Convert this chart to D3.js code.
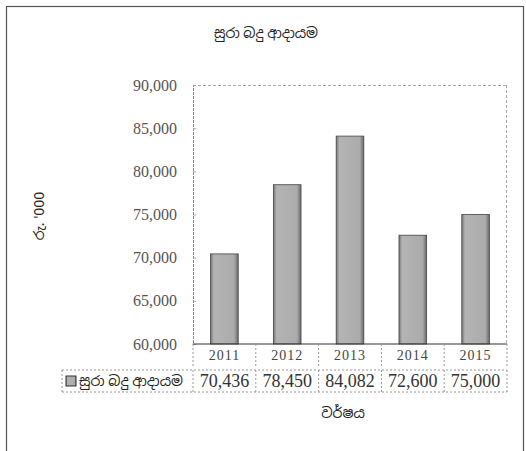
<!DOCTYPE html>
<html>
<head>
<meta charset="utf-8">
<script src="https://cdn.jsdelivr.net/npm/d3@7"></script>
<style>
  body { margin: 0; background: #fff; }
  text { font-family: "Liberation Serif", "DejaVu Serif", serif; fill: #444; }
  .si { font-family: "Noto Sans", "Noto Sans Sinhala", sans-serif; }
</style>
</head>
<body>
<div class="chart"></div>
<script>
// Data
const years = ["2011", "2012", "2013", "2014", "2015"];
const revenue = [70436, 78450, 84082, 72600, 75000];
const yTicks = [60000, 65000, 70000, 75000, 80000, 85000, 90000];
const seriesName = "සුරා බදු ආදායම";
const titleText = "සුරා බදු ආදායම";
const xTitle = "වර්ෂය";
const yTitle = "රු. '000";

const W = 526, H = 451;
const margin = {top: 85, left: 193, right: 19, bottom: 107};
const width = W - margin.left - margin.right;
const height = H - margin.top - margin.bottom;

const svg = d3.select(".chart").append("svg")
    .attr("width", W)
    .attr("height", H);

// outer frame (bottom edge runs off the page)
svg.append("rect")
    .attr("x", 6.5).attr("y", 6.5)
    .attr("width", 517).attr("height", 460)
    .attr("fill", "none")
    .attr("stroke", "#555")
    .attr("stroke-width", 1.2);

// title
svg.append("text")
    .attr("class", "si")
    .attr("x", 266).attr("y", 38)
    .attr("text-anchor", "middle")
    .style("font-size", "14px")
    .style("fill", "#222")
    .text(titleText);

const g = svg.append("g")
    .attr("transform", `translate(${margin.left},${margin.top})`);

// scales
const xScale = d3.scaleBand()
    .domain(years)
    .range([0, width])
    .paddingInner(0.56)
    .paddingOuter(0.28);

const yScale = d3.scaleLinear()
    .domain([60000, 90000])
    .range([height, 0]);

// bar gradient
const defs = svg.append("defs");
const grad = defs.append("linearGradient").attr("id", "barGrad");
grad.append("stop").attr("offset", "0%").attr("stop-color", "#777");
grad.append("stop").attr("offset", "12%").attr("stop-color", "#b4b4b4");
grad.append("stop").attr("offset", "85%").attr("stop-color", "#ababab");
grad.append("stop").attr("offset", "100%").attr("stop-color", "#6a6a6a");

// plot frame (dotted top / right)
g.append("line")
    .attr("x1", 0).attr("x2", width).attr("y1", 0.5).attr("y2", 0.5)
    .attr("stroke", "#aaa").attr("stroke-dasharray", "3,2");
g.append("line")
    .attr("x1", width - 0.5).attr("x2", width - 0.5).attr("y1", 0).attr("y2", height)
    .attr("stroke", "#aaa").attr("stroke-dasharray", "3,2");

// y axis
const yAxis = d3.axisLeft(yScale)
    .tickValues(yTicks)
    .tickSize(-3)
    .tickPadding(16)
    .tickFormat(d3.format(","));

const yAxisChart = g.append("g")
    .attr("class", "axis y-axis")
    .call(yAxis);
yAxisChart.select(".domain").attr("stroke", "#888").attr("stroke-dasharray", "3,1");
yAxisChart.selectAll(".tick line").attr("stroke", "#aaa");
yAxisChart.selectAll("text")
    .style("font-size", "16px")
    .style("fill", "#555");

// bars
g.selectAll(".bar")
    .data(revenue)
    .join("rect")
    .attr("class", "bar")
    .attr("x", (d, i) => xScale(years[i]))
    .attr("y", d => yScale(d))
    .attr("width", xScale.bandwidth())
    .attr("height", d => height - yScale(d))
    .attr("fill", "url(#barGrad)")
    .attr("stroke", "#444")
    .attr("stroke-width", 0.8);

// x axis (bottom line)
g.append("line")
    .attr("x1", 0).attr("x2", width).attr("y1", height).attr("y2", height)
    .attr("stroke", "#333").attr("stroke-width", 1.2);

// data table
const step = xScale.step();
const bounds = d3.range(years.length + 1).map(i => i * step);
const row1 = height + 22;
const row2Top = height + 26;
const row2Bot = height + 48;
const headLeft = 62 - margin.left;

const tbl = g.append("g").attr("class", "table")
    .attr("stroke", "#999")
    .attr("stroke-dasharray", "2,2");

tbl.selectAll(".vsep1")
    .data(bounds)
    .join("line")
    .attr("x1", d => d).attr("x2", d => d)
    .attr("y1", height).attr("y2", row1);

tbl.selectAll(".vsep2")
    .data([headLeft].concat(bounds))
    .join("line")
    .attr("x1", d => d).attr("x2", d => d)
    .attr("y1", row2Top).attr("y2", row2Bot);

tbl.append("line")
    .attr("x1", headLeft).attr("x2", width)
    .attr("y1", row2Top).attr("y2", row2Top);
tbl.append("line")
    .attr("x1", headLeft).attr("x2", width)
    .attr("y1", row2Bot).attr("y2", row2Bot);

g.selectAll(".yearLabel")
    .data(years)
    .join("text")
    .attr("x", d => xScale(d) + xScale.bandwidth() / 2)
    .attr("y", height + 16)
    .attr("text-anchor", "middle")
    .style("font-size", "14px")
    .style("letter-spacing", "1px")
    .style("fill", "#444")
    .text(d => d);

g.selectAll(".valLabel")
    .data(revenue)
    .join("text")
    .attr("x", (d, i) => xScale(years[i]) + xScale.bandwidth() / 2)
    .attr("y", row2Bot - 5)
    .attr("text-anchor", "middle")
    .style("font-size", "18px")
    .style("fill", "#333")
    .text(d => d3.format(",")(d));

// legend key + series name
g.append("rect")
    .attr("x", headLeft + 4).attr("y", row2Top + 6)
    .attr("width", 10).attr("height", 10)
    .attr("fill", "url(#barGrad)")
    .attr("stroke", "#333");
g.append("text")
    .attr("class", "si")
    .attr("x", headLeft + 17).attr("y", row2Bot - 6)
    .style("font-size", "14px")
    .style("fill", "#222")
    .text(seriesName);

// axis titles
svg.append("text")
    .attr("class", "si")
    .attr("x", 343).attr("y", 418)
    .attr("text-anchor", "middle")
    .style("font-size", "14px")
    .style("fill", "#222")
    .text(xTitle);

svg.append("text")
    .attr("class", "si")
    .attr("transform", "translate(44,216) rotate(-90)")
    .attr("text-anchor", "middle")
    .style("font-size", "14px")
    .style("fill", "#222")
    .text(yTitle);
</script>
</body>
</html>
